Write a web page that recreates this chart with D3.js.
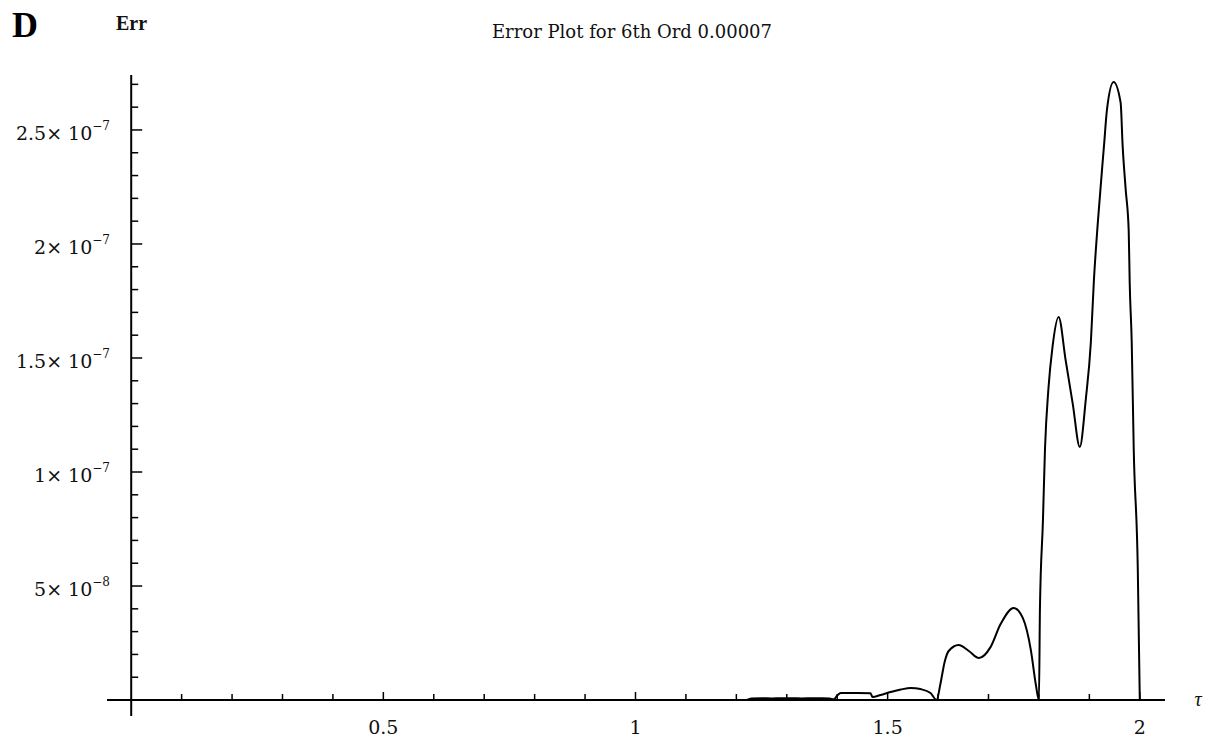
<!DOCTYPE html>
<html>
<head>
<meta charset="utf-8">
<script src="https://cdn.jsdelivr.net/npm/d3@7"></script>
<style>
  html, body { margin: 0; padding: 0; background: #ffffff; }
  svg { display: block; }
</style>
</head>
<body>
<svg id="chart" width="1208" height="740"></svg>
<script>
// ---------------- data ----------------
const panelLabel = "D";
const titleText = "Error Plot for 6th Ord 0.00007";
const yAxisLabel = "Err";
const xAxisLabel = "τ";

const xTickValues = [0.5, 1, 1.5, 2];
const xTickLabels = ["0.5", "1", "1.5", "2"];
const yTickValues = [5e-8, 1e-7, 1.5e-7, 2e-7, 2.5e-7];
const yTickMantissa = ["5", "1", "1.5", "2", "2.5"];
const yTickExponent = ["−8", "−7", "−7", "−7", "−7"];

// error curve, tau values
const tau = [
  0, 1.22, 1.23, 1.25, 1.27, 1.29, 1.31, 1.33, 1.35, 1.37, 1.385,
  1.393, 1.400, 1.407, 1.440, 1.466, 1.470, 1.486, 1.506,
  1.526, 1.546, 1.565, 1.585, 1.597, 1.605, 1.613, 1.621, 1.641, 1.661, 1.681,
  1.704, 1.724, 1.750, 1.768, 1.784, 1.794, 1.800, 1.802, 1.808, 1.812, 1.819,
  1.827, 1.839, 1.853, 1.867, 1.881, 1.893, 1.903, 1.909, 1.917, 1.929, 1.935,
  1.948, 1.962, 1.966, 1.972, 1.978, 1.980, 1.984, 1.988, 1.996, 2.000
];
// error values
const err = [
  0, 0, 0.7e-9, 0.8e-9, 0.7e-9, 0.8e-9, 0.8e-9, 0.7e-9, 0.8e-9, 0.8e-9, 0.7e-9,
  0.3e-9, 2.0e-9, 3.1e-9, 3.1e-9, 3.0e-9, 1.3e-9, 2.2e-9, 3.5e-9,
  4.6e-9, 5.3e-9, 4.8e-9, 3.1e-9, 0, 7.5e-9, 16.7e-9, 21.5e-9, 24.1e-9, 21.5e-9, 18.4e-9,
  23.2e-9, 33.3e-9, 40.4e-9, 36.0e-9, 21.9e-9, 6.6e-9, 0, 40e-9, 79e-9, 110e-9, 137e-9,
  155e-9, 168e-9, 149e-9, 130e-9, 111e-9, 132e-9, 157e-9, 184e-9, 210e-9, 243e-9, 259e-9,
  271e-9, 262e-9, 243e-9, 224e-9, 206e-9, 183e-9, 157e-9, 110e-9, 58e-9, 0
];

// ---------------- drawing ----------------
const svg = d3.select("#chart");
const serif = "'DejaVu Serif', 'Liberation Serif', serif";
const timesBold = "'Liberation Serif', 'DejaVu Serif', serif";

const x = d3.scaleLinear().domain([-0.048, 2.05]).range([107, 1165]);
const y = d3.scaleLinear().domain([-7.0e-9, 2.741e-7]).range([716, 75]);

const x0 = x(0), y0 = y(0);

// axis lines
svg.append("line")
  .attr("x1", x.range()[0]).attr("x2", x.range()[1])
  .attr("y1", y0).attr("y2", y0)
  .attr("stroke", "#000").attr("stroke-width", 2);
svg.append("line")
  .attr("x1", x0).attr("x2", x0)
  .attr("y1", y.range()[0]).attr("y2", y.range()[1])
  .attr("stroke", "#000").attr("stroke-width", 2);

// x ticks (major + minor), drawn upward
const xMinor = d3.range(1, 21).map(d => d / 10);
svg.append("g").selectAll("line").data(xMinor).join("line")
  .attr("x1", d => x(d)).attr("x2", d => x(d))
  .attr("y1", y0)
  .attr("y2", d => y0 - (Math.abs(d * 2 - Math.round(d * 2)) < 1e-9 ? 8 : 6))
  .attr("stroke", "#000").attr("stroke-width", 1.5);

// y ticks (major + minor), drawn rightward
const yMinor = d3.range(1, 28).map(d => d * 1e-8);
svg.append("g").selectAll("line").data(yMinor).join("line")
  .attr("y1", d => y(d)).attr("y2", d => y(d))
  .attr("x1", x0)
  .attr("x2", (d, i) => x0 + ((i + 1) % 5 === 0 ? 11 : 7))
  .attr("stroke", "#000").attr("stroke-width", 1.5);

// x tick labels
svg.append("g").selectAll("text").data(xTickValues).join("text")
  .attr("x", d => x(d))
  .attr("y", y0 + 34)
  .attr("text-anchor", "middle")
  .attr("font-family", serif)
  .attr("font-size", 19)
  .attr("fill", "#111")
  .text((d, i) => xTickLabels[i]);

// y tick labels with superscript exponents
const yl = svg.append("g").selectAll("text").data(yTickValues).join("text")
  .attr("x", 110)
  .attr("y", d => y(d) + 10)
  .attr("text-anchor", "end")
  .attr("font-family", serif)
  .attr("font-size", 19)
  .attr("fill", "#111");
yl.append("tspan").text((d, i) => yTickMantissa[i] + "× 10");
yl.append("tspan")
  .attr("dy", -10)
  .attr("font-size", 12)
  .text((d, i) => yTickExponent[i]);

// curve
const pts = tau.map((t, i) => [t, err[i]]);
svg.append("path")
  .datum(pts)
  .attr("fill", "none")
  .attr("stroke", "#000")
  .attr("stroke-width", 2)
  .attr("stroke-linejoin", "round")
  .attr("d", d3.line().x(d => x(d[0])).y(d => y(d[1])).curve(d3.curveMonotoneX));

// title
svg.append("text")
  .attr("x", 632).attr("y", 38)
  .attr("text-anchor", "middle")
  .attr("font-family", serif)
  .attr("font-size", 18)
  .attr("fill", "#111")
  .text(titleText);

// axis labels
svg.append("text")
  .attr("x", 116).attr("y", 30)
  .attr("font-family", timesBold)
  .attr("font-weight", "bold")
  .attr("font-size", 20)
  .attr("fill", "#111")
  .text(yAxisLabel);

svg.append("text")
  .attr("x", 1198).attr("y", 706)
  .attr("text-anchor", "middle")
  .attr("font-family", timesBold)
  .attr("font-style", "italic")
  .attr("font-size", 20)
  .attr("fill", "#111")
  .text(xAxisLabel);

// panel label
svg.append("text")
  .attr("x", 12).attr("y", 37)
  .attr("font-family", timesBold)
  .attr("font-weight", "bold")
  .attr("font-size", 36)
  .attr("fill", "#000")
  .text(panelLabel);
</script>
</body>
</html>
